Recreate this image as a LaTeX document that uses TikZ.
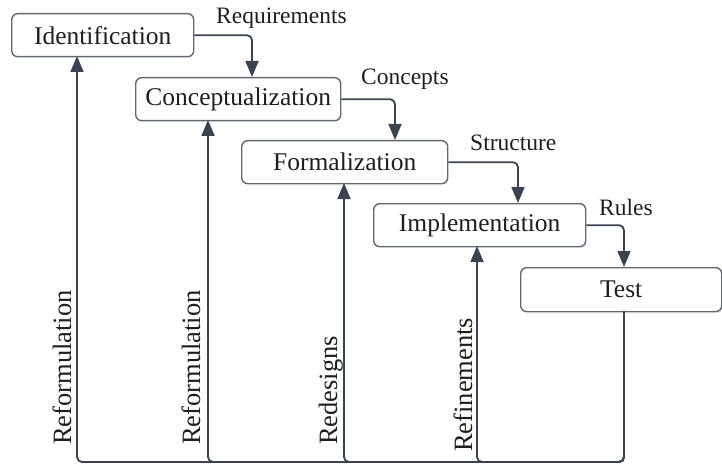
\documentclass[tikz,border=0pt]{standalone}
\usepackage{fontspec}
\setmainfont{Liberation Serif}
\usetikzlibrary{arrows.meta,calc}
\definecolor{wire}{HTML}{3B4350}
\definecolor{frame}{HTML}{626870}
\definecolor{ink}{HTML}{1E1E1E}
\begin{document}
\begin{tikzpicture}[x=1pt,y=-1pt,
  stage/.style={draw=frame,line width=1.4pt,rounded corners=6pt,fill=white,
    text=ink,font=\fontsize{25.5}{28}\selectfont,inner sep=0pt,anchor=north west},
  flow/.style={draw=wire,line width=1.8pt,rounded corners=5pt,
    -{Triangle[length=16pt,width=13pt]}},
  tag/.style={text=ink,font=\fontsize{23.5}{26}\selectfont,inner sep=0pt},
  sidetag/.style={text=ink,font=\fontsize{26.5}{30}\selectfont,inner sep=0pt,
    rotate=90,anchor=base west}]
\useasboundingbox (0,0) rectangle (722,465);

% process stages
\node[stage,minimum width=182pt,minimum height=43pt] (ident) at (11,13) {Identification};
\node[stage,minimum width=205pt,minimum height=43pt] (concept) at (135,77) {Conceptualization};
\node[stage,minimum width=206pt,minimum height=43pt] (formal) at (241,140) {Formalization};
\node[stage,minimum width=212pt,minimum height=43pt] (impl) at (373,203) {Implementation};
\node[stage,minimum width=201pt,minimum height=44pt] (test) at (520,267) {Test};

% forward connectors
\coordinate (c1) at (252,77);
\coordinate (c2) at (395,140);
\coordinate (c3) at (518,203);
\coordinate (c4) at (624,267);
\draw[flow] (ident.east) -| (c1);
\draw[flow] (concept.east) -| (c2);
\draw[flow] (formal.east) -| (c3);
\draw[flow] (impl.east) -| (c4);
\node[tag,anchor=west] (l1) at (216,18) {Requirements};
\node[tag,anchor=west] (l2) at (361,79) {Concepts};
\node[tag,anchor=west] (l3) at (470,143) {Structure};
\node[tag,anchor=west] (l4) at (599,207) {Rules};

% feedback connectors
\coordinate (t0) at (624,311);
\coordinate (f1) at (77,56);
\coordinate (f2) at (208,120);
\coordinate (f3) at (344,183);
\coordinate (f4) at (477,246);
\draw[flow] (t0) |- (77,462) -- (f1);
\draw[flow] (t0) |- (208,462) -- (f2);
\draw[flow] (t0) |- (344,462) -- (f3);
\draw[flow] (t0) |- (477,462) -- (f4);
\node[sidetag] (r1) at (71,445) {Reformulation};
\node[sidetag] (r2) at (200,445) {Reformulation};
\node[sidetag] (r3) at (337,445) {Redesigns};
\node[sidetag] (r4) at (472,452) {Refinements};
\end{tikzpicture}
\end{document}
